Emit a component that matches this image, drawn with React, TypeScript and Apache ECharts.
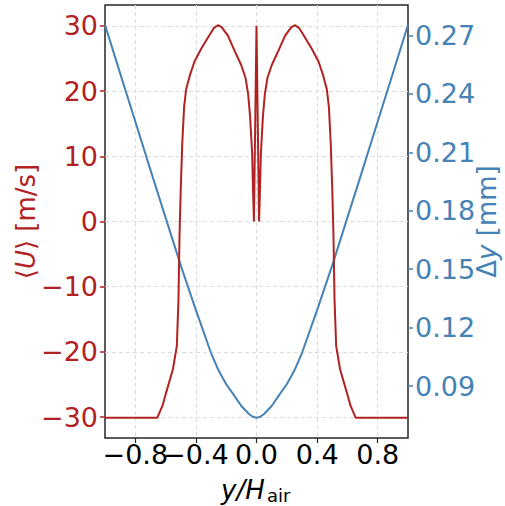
import React, { useEffect, useRef } from 'react';
import * as echarts from 'echarts';

// Mean velocity profile (left axis)
const uX = [
  -1, -0.655, -0.62, -0.596, -0.552, -0.526, -0.515, -0.508, -0.5, -0.49, -0.478, -0.465,
  -0.44, -0.41, -0.365, -0.31, -0.28, -0.255, -0.23, -0.189, -0.145, -0.101, -0.072, -0.055,
  -0.042, -0.035, -0.029, -0.023, -0.017, 0, 0.017, 0.023, 0.029, 0.035, 0.042, 0.055, 0.072,
  0.101, 0.145, 0.189, 0.23, 0.255, 0.28, 0.31, 0.365, 0.41, 0.44, 0.465, 0.478, 0.49, 0.5,
  0.508, 0.515, 0.526, 0.552, 0.596, 0.62, 0.655, 1,
];
const uVal = [
  -30.1, -30.1, -28.2, -26.2, -22.7, -19.1, -12, -2, 5, 12, 17.5, 20.2,
  22.4, 24.5, 26.5, 28.6, 29.7, 30.1, 29.8, 28.5, 26.2, 24, 22, 19.5,
  16, 13, 10.5, 5, 0, 30, 0, 5, 10.5, 13, 16, 19.5, 22,
  24, 26.2, 28.5, 29.8, 30.1, 29.7, 28.6, 26.5, 24.5, 22.4, 20.2, 17.5, 12, 5,
  -2, -12, -19.1, -22.7, -26.2, -28.2, -30.1, -30.1,
];

// Grid spacing (right axis)
const dyX = [
  -1, -0.9, -0.8, -0.7, -0.6, -0.5, -0.4, -0.3, -0.25, -0.2, -0.15, -0.1, -0.05, -0.025, 0,
  0.025, 0.05, 0.1, 0.15, 0.2, 0.25, 0.3, 0.4, 0.5, 0.6, 0.7, 0.8, 0.9, 1,
];
const dyVal = [
  0.2755, 0.2505, 0.2258, 0.201, 0.1765, 0.152, 0.129, 0.107, 0.098, 0.091, 0.0855, 0.0798, 0.0757, 0.0743, 0.0738,
  0.0743, 0.0757, 0.0798, 0.0855, 0.091, 0.098, 0.107, 0.129, 0.152, 0.1765, 0.201, 0.2258, 0.2505, 0.2755,
];

// x ticks split over two stacked bottom axes so the touching labels are all kept
const xTicksA = [-0.8, 0, 0.8];
const xTicksB = [-0.4, 0.4];
const uTicks = [-30, -20, -10, 0, 10, 20, 30];
const dyTicks = [0.09, 0.12, 0.15, 0.18, 0.21, 0.24, 0.27];

const RED = '#b22222';
const BLUE = '#4682b4';
const FONT = 'DejaVu Sans';
const TICK_FS = 27;
const NAME_FS = 26;
const fmt = (v: number, d: number) => v.toFixed(d).replace('-', '\u2212');

export default function App() {
  const ref = useRef<HTMLDivElement>(null);
  useEffect(() => {
    document.body.style.margin = '0';
    if (!ref.current) return;
    const chart = echarts.init(ref.current, undefined, { renderer: 'svg' });
    const grid = { left: 105, top: 5, width: 303, height: 433 };
    const gridLine = { show: true, lineStyle: { color: '#dcdcdc', width: 1, type: [4, 3] as any } };
    const xAxisFor = (ticks: number[]) => ({
      type: 'value',
      min: -1,
      max: 1,
      position: 'bottom',
      offset: 0,
      axisLine: { show: false, onZero: false },
      axisTick: { show: true, customValues: ticks, length: 5, lineStyle: { color: '#262626', width: 1.2 } },
      axisLabel: {
        customValues: ticks,
        formatter: (v: number) => fmt(v, 1),
        color: '#000',
        fontSize: TICK_FS,
        fontFamily: FONT,
        margin: 3,
        hideOverlap: false,
        showMinLabel: true,
        showMaxLabel: true,
      },
      splitLine: gridLine,
    });
    chart.setOption({
      animation: false,
      grid: {
        ...grid,
        containLabel: false,
        outerBoundsMode: 'none',
        show: true,
        borderColor: '#262626',
        borderWidth: 1.5,
        backgroundColor: 'transparent',
      },
      xAxis: [xAxisFor(xTicksA), xAxisFor(xTicksB)],
      yAxis: [
        {
          type: 'value',
          min: -33.2,
          max: 33.2,
          position: 'left',
          axisLine: { show: false, onZero: false },
          axisTick: { show: true, customValues: uTicks, length: 5, lineStyle: { color: RED, width: 1.5 } },
          axisLabel: {
            customValues: uTicks,
            formatter: (v: number) => fmt(v, 0),
            color: RED,
            fontSize: TICK_FS,
            fontFamily: FONT,
            margin: 7,
            hideOverlap: false,
            showMinLabel: true,
            showMaxLabel: true,
          },
          splitLine: gridLine,
          name: '\u27e8{i|U}\u27e9 [m/s]',
          nameLocation: 'middle',
          nameGap: 66,
          nameMoveOverlap: false,
          nameTextStyle: {
            color: RED,
            fontSize: NAME_FS,
            fontFamily: FONT,
            rich: { i: { color: RED, fontSize: NAME_FS, fontFamily: FONT, fontStyle: 'italic' } },
          },
        },
        {
          type: 'value',
          min: 0.0634,
          max: 0.2856,
          position: 'right',
          axisLine: { show: false, onZero: false },
          axisTick: { show: true, customValues: dyTicks, length: 5, lineStyle: { color: BLUE, width: 1.5 } },
          axisLabel: {
            customValues: dyTicks,
            formatter: (v: number) => fmt(v, 2),
            color: BLUE,
            fontSize: TICK_FS,
            fontFamily: FONT,
            margin: 7,
            hideOverlap: false,
            showMinLabel: true,
            showMaxLabel: true,
          },
          splitLine: { show: false },
          name: '\u0394{i|y} [mm]',
          nameLocation: 'middle',
          nameGap: 66,
          nameMoveOverlap: false,
          nameTextStyle: {
            color: BLUE,
            fontSize: NAME_FS,
            fontFamily: FONT,
            rich: { i: { color: BLUE, fontSize: NAME_FS, fontFamily: FONT, fontStyle: 'italic' } },
          },
        },
      ],
      series: [
        {
          type: 'line',
          xAxisIndex: 0,
          yAxisIndex: 0,
          data: uX.map((x, i) => [x, uVal[i]]),
          showSymbol: false,
          lineStyle: { color: RED, width: 2 },
          z: 3,
        },
        {
          type: 'line',
          xAxisIndex: 0,
          yAxisIndex: 1,
          data: dyX.map((x, i) => [x, dyVal[i]]),
          showSymbol: false,
          lineStyle: { color: BLUE, width: 2 },
          z: 2,
        },
      ],
      graphic: [
        {
          type: 'text',
          left: 221,
          top: 477,
          style: { text: 'y/H', font: `italic ${NAME_FS}px "${FONT}"`, fill: '#000' },
        },
        {
          type: 'text',
          left: 267,
          top: 486,
          style: { text: 'air', font: `18px "${FONT}"`, fill: '#000' },
        },
      ],
    });
    return () => chart.dispose();
  }, []);
  return <div ref={ref} style={{ width: 505, height: 506 }} />;
}
